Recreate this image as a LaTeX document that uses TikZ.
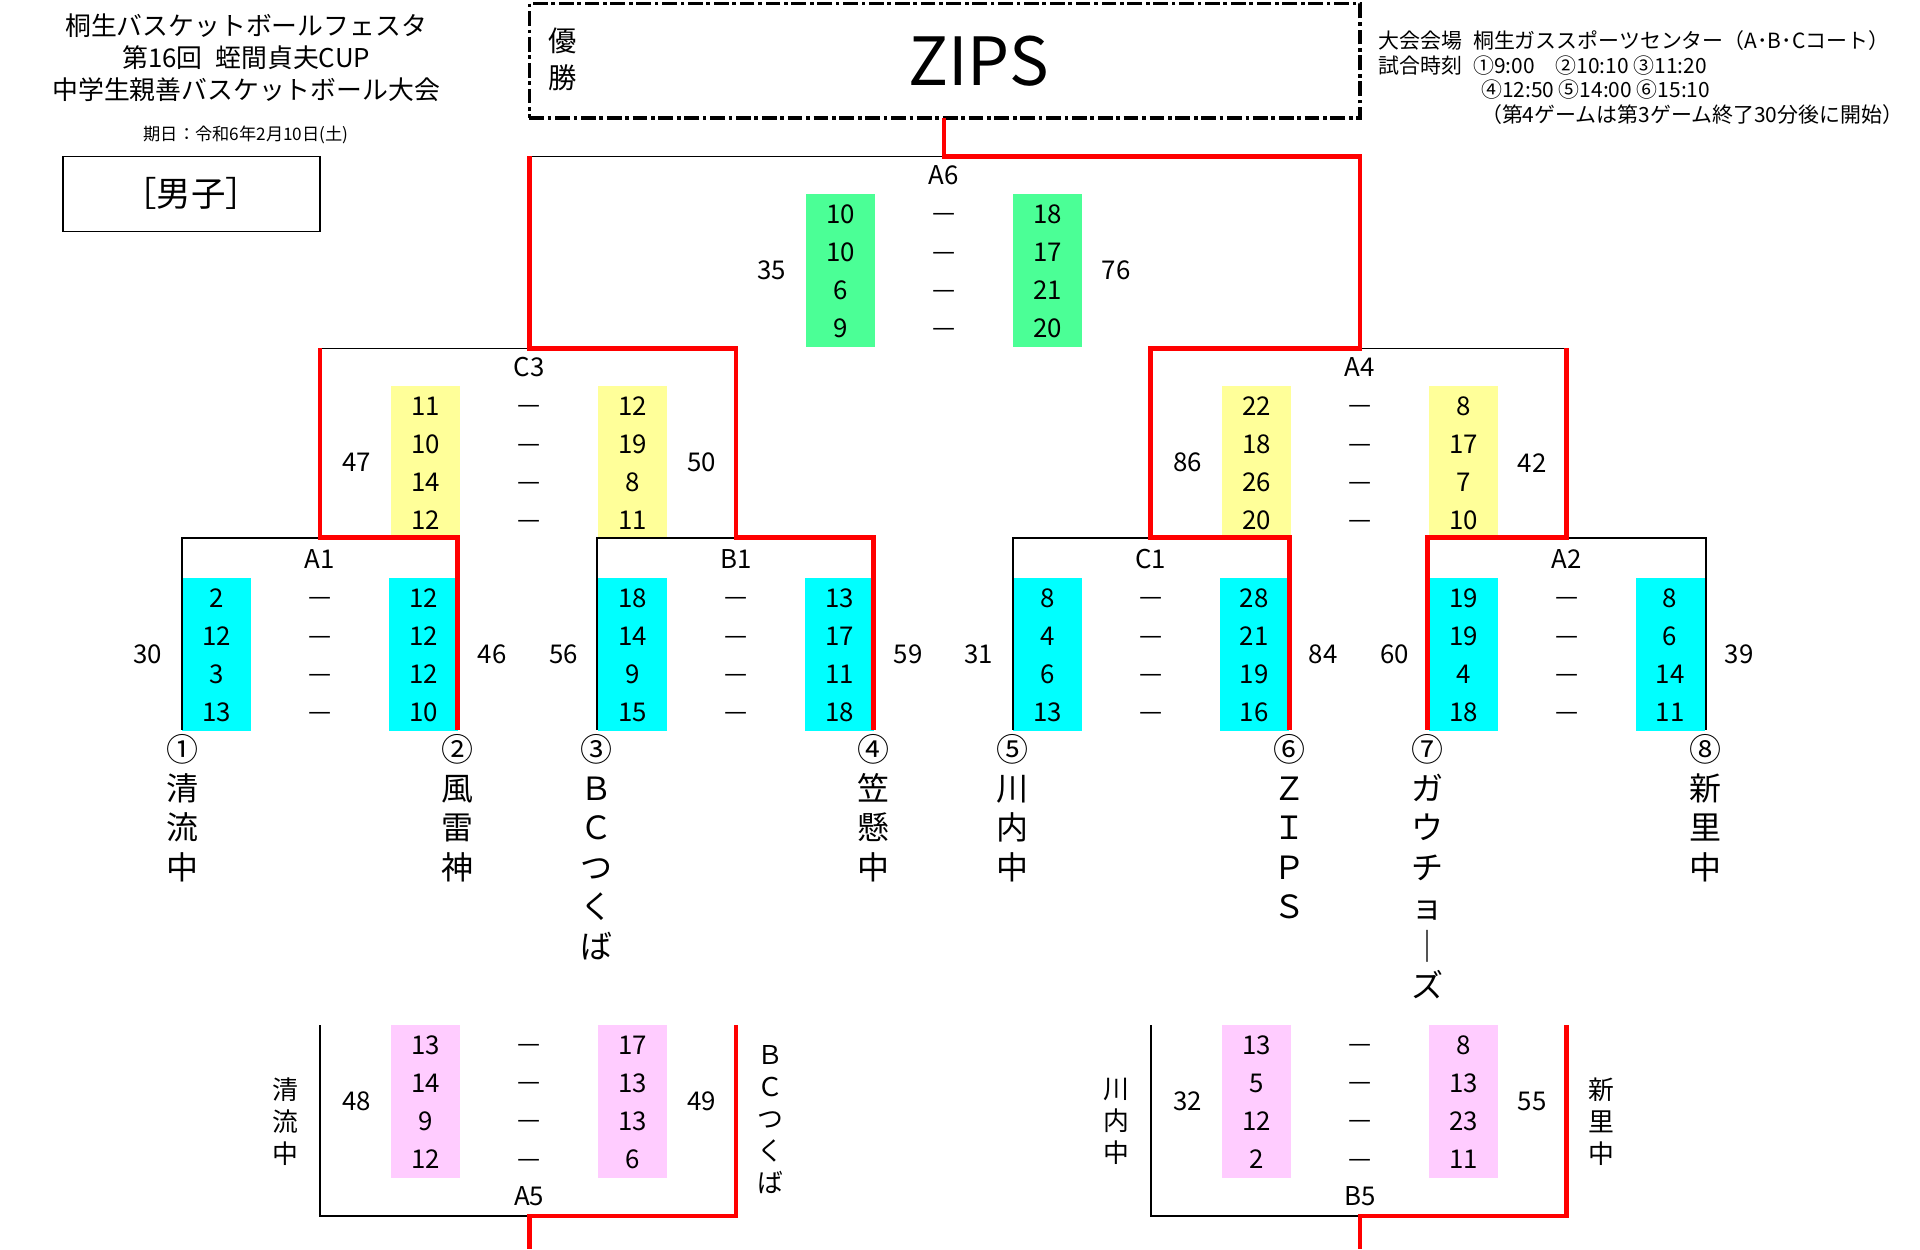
\documentclass[tikz,border=0pt]{standalone}
\usepackage{fontspec}
\setmainfont{Noto Sans CJK JP}
\usepackage{xcolor}
\usetikzlibrary{positioning}

\definecolor{gfinal}{HTML}{4BFF96}
\definecolor{gsemi}{HTML}{FFFF99}
\definecolor{gfirst}{HTML}{00FFFF}
\definecolor{gplace}{HTML}{FFCCFF}
\definecolor{winred}{HTML}{FF0000}

% one game: id, centre x, top of score boxes, fill, rows a/b, total left, total right
\newcommand{\drawgame}[7]{%
  \fill[#4] (#2-112,#3) rectangle (#2-56,#3+124);
  \fill[#4] (#2+56,#3) rectangle (#2+112,#3+124);
  \foreach \a/\b [count=\k] in {#5} {
    \node[score] (#1-l\k) at (#2-84,#3+16+31*\k-31) {\a};
    \node[score, yshift=-1.5pt] (#1-d\k) at (#2,#3+16+31*\k-31) {—};
    \node[score] (#1-r\k) at (#2+84,#3+16+31*\k-31) {\b};
  }
  \node[score] (#1-tl) at (#2-140,#3+62) {#6};
  \node[score] (#1-tr) at (#2+140,#3+62) {#7};
}

\begin{document}
\begin{tikzpicture}[
x=0.5pt, y=-0.5pt,
score/.style={inner sep=0pt, font=\fontsize{10.5}{12}\selectfont},
gamelabel/.style={inner sep=0pt, font=\fontsize{10.5}{12}\selectfont},
wire/.style={draw=black, line width=0.6pt},
win/.style={draw=winred, line width=2pt},
team/.style={inner sep=0pt, anchor=north, align=center, font=\fontsize{13}{16}\selectfont},
sideteam/.style={inner sep=0pt, align=center, font=\fontsize{10.5}{13}\selectfont},
info/.style={inner sep=0pt, anchor=west, font=\fontsize{8.5}{10}\selectfont}
]
\useasboundingbox (0,0) rectangle (1560,1015);

% heading
\node[inner sep=0pt, align=center, font=\fontsize{10.5}{13}\selectfont] (title) at (200,47)
  {桐生バスケットボールフェスタ\\第16回\enspace 蛭間貞夫CUP\\中学生親善バスケットボール大会};
\node[inner sep=0pt, font=\fontsize{7}{8}\selectfont] (date) at (200,110) {期日：令和6年2月10日(土)};
\node[draw, line width=0.6pt, minimum width=104.5pt, minimum height=30.5pt,
  font=\fontsize{14}{16}\selectfont] (boys) at (155.5,157.5) {［男子］};

% champion
\node[draw, line width=1.4pt, dash pattern=on 6pt off 1.5pt on 1.5pt off 1.5pt,
  minimum width=337.5pt, minimum height=46.5pt] (champ) at (767.5,49.5) {};
\node[inner sep=0pt, align=center, font=\fontsize{11.5}{15}\selectfont] (yusho) at (457,48) {優\\勝};
\node[inner sep=0pt, font=\fontsize{27}{30}\selectfont] (winner) at (795,50) {ZIPS};

% venue and times
\node[info] (venue) at (1120,33) {大会会場\enspace 桐生ガススポーツセンター（A･B･Cコート）};
\node[info] (times) at (1120,53) {試合時刻\enspace ①9:00\quad ②10:10 ③11:20};
\node[info] (times2) at (1203,73) {④12:50 ⑤14:00 ⑥15:10};
\node[info] (note) at (1203,93) {（第4ゲームは第3ゲーム終了30分後に開始）};

% first round
\drawgame{A1}{260}{470}{gfirst}{2/12,12/12,3/12,13/10}{30}{46}
\drawgame{B1}{598}{470}{gfirst}{18/13,14/17,9/11,15/18}{56}{59}
\drawgame{C1}{935}{470}{gfirst}{8/28,4/21,6/19,13/16}{31}{84}
\drawgame{A2}{1273}{470}{gfirst}{19/8,19/6,4/14,18/11}{60}{39}
% semi finals
\drawgame{C3}{430}{314}{gsemi}{11/12,10/19,14/8,12/11}{47}{50}
\drawgame{A4}{1105}{314}{gsemi}{22/8,18/17,26/7,20/10}{86}{42}
% final
\drawgame{A6}{767}{158}{gfinal}{10/18,10/17,6/21,9/20}{35}{76}
% places
\drawgame{A5}{430}{833}{gplace}{13/17,14/13,9/13,12/6}{48}{49}
\drawgame{B5}{1105}{833}{gplace}{13/8,5/13,12/23,2/11}{32}{55}

\foreach \id/\x/\y in {A1/260/454, B1/598/454, C1/935/454, A2/1273/454,
  C3/430/298, A4/1105/298, A6/767/142, A5/430/972, B5/1105/972}
  \node[gamelabel] (lab-\id) at (\x,\y) {\id};

% bracket lines
\draw[wire] (148,593) -- (148,437) -- (260,437);
\draw[wire] (485,593) -- (485,437) -- (598,437);
\draw[wire] (823,593) -- (823,437) -- (935,437);
\draw[wire] (1273,437) -- (1386,437) -- (1386,593);
\draw[wire] (260,283) -- (430,283);
\draw[wire] (1105,283) -- (1273,283);
\draw[wire] (430,127) -- (767,127);
\draw[wire] (260,833) -- (260,988) -- (430,988);
\draw[wire] (935,833) -- (935,988) -- (1105,988);

\draw[win] (372,593) -- (372,437) -- (260,437) -- (260,283);
\draw[win] (710,593) -- (710,437) -- (598,437) -- (598,283) -- (430,283) -- (430,127);
\draw[win] (1048,593) -- (1048,437) -- (935,437) -- (935,283) -- (1105,283) -- (1105,127) -- (767,127) -- (767,96);
\draw[win] (1160,593) -- (1160,437) -- (1273,437) -- (1273,283);
\draw[win] (598,833) -- (598,988) -- (430,988) -- (430,1015);
\draw[win] (1273,833) -- (1273,988) -- (1105,988) -- (1105,1015);

% teams
\foreach \n/\x/\name in {1/148/{①\\清\\流\\中}, 2/372/{②\\風\\雷\\神},
  3/485/{③\\Ｂ\\Ｃ\\つ\\く\\ば}, 4/710/{④\\笠\\懸\\中},
  5/823/{⑤\\川\\内\\中}, 6/1048/{⑥\\Ｚ\\Ｉ\\Ｐ\\Ｓ},
  7/1160/{⑦\\ガ\\ウ\\チ\\ョ\\｜\\ズ}, 8/1386/{⑧\\新\\里\\中}}
  \node[team] (team\n) at (\x,596) {\name};

% place game teams
\node[sideteam] (s1) at (232,911) {清\\流\\中};
\node[sideteam] (s2) at (626,910) {Ｂ\\Ｃ\\つ\\く\\ば};
\node[sideteam] (s3) at (907,911) {川\\内\\中};
\node[sideteam] (s4) at (1301,911) {新\\里\\中};

\end{tikzpicture}
\end{document}
